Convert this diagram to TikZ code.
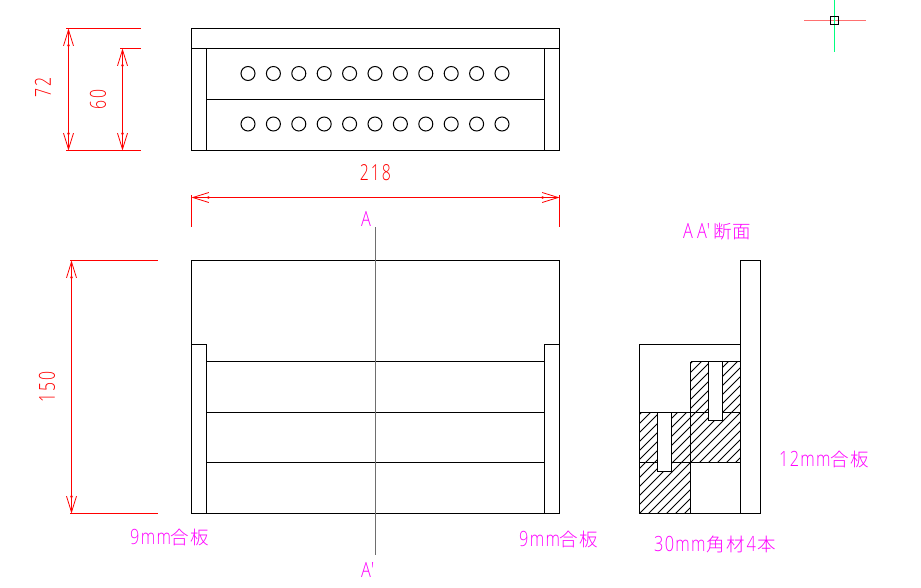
\documentclass[tikz,border=0pt]{standalone}
\usepackage{fontspec}
\usetikzlibrary{arrows.meta}
\newfontfamily\cadfont[FakeStretch=0.72,LetterSpace=9]{Open Sans Light}
\newfontfamily\notefont[FakeStretch=0.78,LetterSpace=6]{Open Sans Light}
\newfontfamily\cadcjk[LetterSpace=5]{Noto Sans CJK JP Light}
\definecolor{cadred}{RGB}{255,0,0}
\definecolor{cadmag}{RGB}{255,0,255}
\definecolor{cadgreen}{RGB}{0,255,128}
\definecolor{cadpink}{RGB}{255,112,112}
\definecolor{cadgray}{RGB}{110,110,110}
\tikzset{
  obj/.style={draw=black,line width=1pt},
  dimext/.style={draw=cadred,line width=1pt},
  dimarr/.style={draw=cadred,line width=1pt,
    {Straight Barb[length=16pt,width=10pt,line width=.8pt]Latex[length=4pt,width=3pt,sep=-4pt]}-{Latex[length=4pt,width=3pt,sep=-4pt]Straight Barb[length=16pt,width=10pt,line width=.8pt]}},
  dimtxt/.style={text=cadred,font=\cadfont\fontsize{22}{22}\selectfont,inner sep=0pt},
  note/.style={text=cadmag,font=\notefont\fontsize{21}{21}\selectfont,inner sep=0pt,anchor=west},
  hole/.style={obj,fill=white},
  hatchline/.style={draw=black,line width=.9pt},
}
\newcommand{\J}[1]{{\cadcjk\fontsize{18.5}{18.5}\selectfont #1}}
\begin{document}
\begin{tikzpicture}[x=1pt,y=-1pt]
\useasboundingbox[fill=white] (0,0) rectangle (921,587);
% crosshair
\draw[cadpink,line width=1pt] (804,20) -- (866,20);
\draw[cadgreen,line width=1pt] (834.5,0) -- (834.5,52);
\draw[obj] (830.5,16) rectangle (838.5,24);
% top view
\draw[obj] (191.5,28.5) rectangle (559.5,150.5);
\draw[obj] (191.5,48.5) -- (559.5,48.5);
\draw[obj] (206.5,48.5) -- (206.5,150.5);
\draw[obj] (544.5,48.5) -- (544.5,150.5);
\draw[obj] (206.5,99.5) -- (544.5,99.5);
\foreach \i in {0,...,10}{
  \draw[obj] ({248+25.4*\i},73.5) circle (7);
  \draw[obj] ({248+25.4*\i},124) circle (7);
}
% front view
\draw[obj] (191.5,260.5) rectangle (559.5,513.5);
\draw[obj] (191.5,344.5) -- (206.5,344.5) -- (206.5,513.5);
\draw[obj] (559.5,344.5) -- (544.5,344.5) -- (544.5,513.5);
\foreach \y in {361.5,412.5,462.5} \draw[obj] (206.5,\y) -- (544.5,\y);
\draw[cadgray,line width=.8pt] (375.5,227) -- (375.5,555);
% section hatching
\begin{scope}
  \clip (690.5,361.5) rectangle (740.5,462.5) (639.5,412.5) rectangle (690.5,513.5);
  \foreach \k in {0,...,19} \draw[hatchline] ({1045+9*\k-350},350) -- ({1045+9*\k-520},520);
\end{scope}
% section outline
\draw[obj] (740.5,260.5) rectangle (760.5,513.5);
\draw[obj] (639.5,344.5) rectangle (740.5,513.5);
\draw[obj] (690.5,361.5) -- (740.5,361.5);
\draw[obj] (690.5,361.5) -- (690.5,513.5);
\draw[obj] (639.5,412.5) -- (740.5,412.5);
\draw[obj] (639.5,462.5) -- (740.5,462.5);
\draw[hole] (708.5,361.5) rectangle (722.5,420.5);
\draw[hole] (657.5,412.5) rectangle (671.5,471.5);
% dimensions
\draw[dimext] (66,28.5) -- (141,28.5);
\draw[dimext] (120,48.5) -- (141,48.5);
\draw[dimext] (66,150.5) -- (141,150.5);
\draw[dimarr] (68.5,28.5) -- (68.5,150.5);
\draw[dimarr] (122.5,48.5) -- (122.5,150.5);
\node[dimtxt,rotate=90] (d72) at (43,87) {72};
\node[dimtxt,rotate=90] (d60) at (98,99) {60};
\draw[dimext] (191.5,195) -- (191.5,227);
\draw[dimext] (559.5,195) -- (559.5,227);
\draw[dimarr] (191.5,197.5) -- (559.5,197.5);
\node[dimtxt] (d218) at (375.5,172.5) {218};
\draw[dimext] (70,260.5) -- (158,260.5);
\draw[dimext] (70,513.5) -- (158,513.5);
\draw[dimarr] (71.5,260.5) -- (71.5,513.5);
\node[dimtxt,rotate=90] (d150) at (47,387) {150};
% labels
\node[note] (la) at (361,219) {A};
\node[note] (lb) at (361,570) {A'};
\node[note] (sec) at (683,232) {A\kern4pt A'\kern3pt\J{断面}};
\node[note] (l1) at (130,537) {9mm\J{合板}};
\node[note] (l2) at (519,539) {9mm\J{合板}};
\node[note] (l3) at (779,459) {12mm\J{合板}};
\node[note] (l4) at (654,544) {30mm\kern1pt\J{角材}\kern2pt 4\kern2pt\J{本}};
\end{tikzpicture}
\end{document}
